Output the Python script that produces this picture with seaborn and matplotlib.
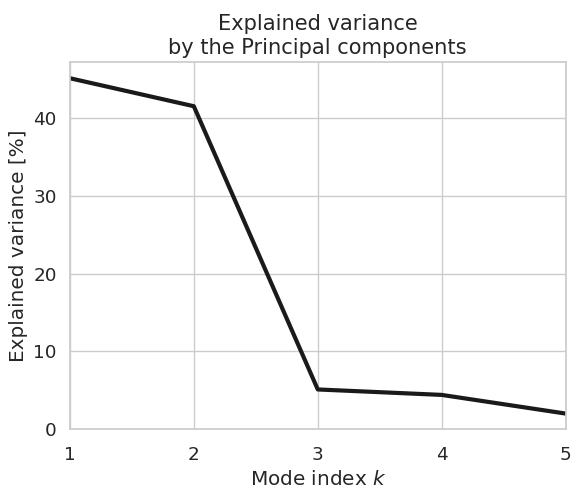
import numpy as np
import matplotlib
matplotlib.use("Agg")
import matplotlib.pyplot as plt
import seaborn as sns

# valeurs
modes = [1, 2, 3, 4, 5]
explained = [45.1, 41.5, 5.1, 4.4, 2.0]

sns.set_theme(style="whitegrid", font_scale=1.2)

fig, ax = plt.subplots(figsize=(5.82, 4.99), dpi=100)
sns.lineplot(x=modes, y=explained, color="#1a1a1a", linewidth=3, ax=ax)
ax.set_xlim(1, 5)
ax.set_ylim(0, 47.2)
ax.set_xticks(modes)
ax.set_yticks([0, 10, 20, 30, 40])
ax.tick_params(axis="x", pad=6.4)
ax.set_title("Explained variance\nby the Principal components", fontsize=15.1)
ax.set_xlabel("Mode index $k$")
ax.set_ylabel("Explained variance [%]")
fig.subplots_adjust(left=0.12, right=0.972, top=0.876, bottom=0.14)
fig.savefig("out.png", dpi=100)
